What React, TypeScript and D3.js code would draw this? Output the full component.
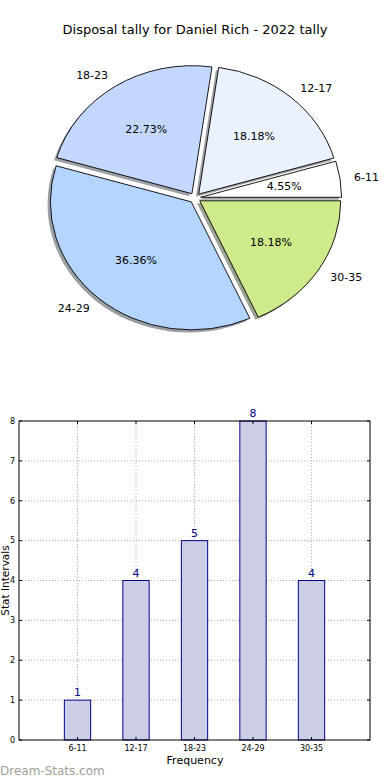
import React, { useEffect, useRef } from 'react';
import * as d3 from 'd3';

const categories = ['6-11', '12-17', '18-23', '24-29', '30-35'];
const tally = [1, 4, 5, 8, 4];
const sliceColors = ['#ffffff', '#eaf1ff', '#c4d8ff', '#b4d5ff', '#cfea8a'];
const yTicks = [0, 1, 2, 3, 4, 5, 6, 7, 8];

const FONT = 'DejaVu Sans, sans-serif';

const App: React.FC = () => {
  const svgRef = useRef<SVGSVGElement>(null);

  useEffect(() => {
    if (!svgRef.current) return;
    const svg = d3.select(svgRef.current);
    svg.selectAll('*').remove();

    // Title
    svg.append('text')
      .attr('x', 195).attr('y', 34)
      .attr('text-anchor', 'middle')
      .attr('font-family', FONT).attr('font-size', 13)
      .text('Disposal tally for Daniel Rich - 2022 tally');

    // ---- Pie (elliptical, matplotlib style, counterclockwise from 3 o'clock)
    const cx = 195, cy = 198, rx = 141, ry = 128, explode = 0.04;
    const total = d3.sum(tally);
    const pie = d3.pie<number>().sort(null)
      .startAngle(Math.PI / 2)
      .endAngle(Math.PI / 2 - 2 * Math.PI);
    const arcs = pie(tally);
    const arc = d3.arc<d3.PieArcDatum<number>>().innerRadius(0).outerRadius(1);

    const pg = svg.append('g');
    const offset = (d: d3.PieArcDatum<number>, k: number) => {
      const a = (d.startAngle + d.endAngle) / 2;
      return [cx + k * rx * Math.sin(a), cy - k * ry * Math.cos(a)];
    };

    // shadows first
    arcs.forEach((d, i) => {
      const [ox, oy] = offset(d, explode);
      const c = d3.rgb(sliceColors[i]);
      pg.append('path')
        .attr('d', arc(d) as string)
        .attr('transform', `translate(${ox - 2.8},${oy + 2.6}) scale(${rx},${ry})`)
        .attr('fill', d3.rgb(c.r * 0.3, c.g * 0.3, c.b * 0.3).toString())
        .attr('fill-opacity', 0.5);
    });
    arcs.forEach((d, i) => {
      const [ox, oy] = offset(d, explode);
      pg.append('path')
        .attr('d', arc(d) as string)
        .attr('transform', `translate(${ox},${oy}) scale(${rx},${ry})`)
        .attr('fill', sliceColors[i])
        .attr('stroke', '#000')
        .attr('stroke-width', 0.9)
        .attr('vector-effect', 'non-scaling-stroke');
    });
    arcs.forEach((d, i) => {
      const a = (d.startAngle + d.endAngle) / 2;
      const [px, py] = offset(d, explode + 0.6);
      pg.append('text')
        .attr('x', px).attr('y', py)
        .attr('dy', '0.35em')
        .attr('text-anchor', 'middle')
        .attr('font-family', FONT).attr('font-size', 11)
        .text(`${((tally[i] / total) * 100).toFixed(2)}%`);
      const [lx, ly] = offset(d, explode + 1.1);
      pg.append('text')
        .attr('x', lx).attr('y', ly)
        .attr('dy', '0.35em')
        .attr('text-anchor', Math.sin(a) > 0 ? 'start' : 'end')
        .attr('font-family', FONT).attr('font-size', 11)
        .text(categories[i]);
    });

    // ---- Bar chart
    const x = d3.scaleLinear().domain([0, 6]).range([19, 370]);
    const y = d3.scaleLinear().domain([0, 8]).range([740, 421]);
    const bg = svg.append('g');
    const barW = 0.45;

    // grid
    yTicks.slice(1, -1).forEach((t) => {
      bg.append('line')
        .attr('x1', x(0)).attr('x2', x(6))
        .attr('y1', y(t)).attr('y2', y(t))
        .attr('stroke', '#b0b0b0').attr('stroke-width', 1)
        .attr('stroke-dasharray', '1,2');
    });
    categories.forEach((_, i) => {
      bg.append('line')
        .attr('x1', x(i + 1)).attr('x2', x(i + 1))
        .attr('y1', y(0)).attr('y2', y(8))
        .attr('stroke', '#b0b0b0').attr('stroke-width', 1)
        .attr('stroke-dasharray', '1,2');
    });

    // bars
    tally.forEach((v, i) => {
      bg.append('rect')
        .attr('x', x(i + 1 - barW / 2))
        .attr('y', y(v))
        .attr('width', x(barW) - x(0))
        .attr('height', y(0) - y(v))
        .attr('fill', '#ccceE6')
        .attr('stroke', '#00008b')
        .attr('stroke-width', 1);
      bg.append('text')
        .attr('x', x(i + 1)).attr('y', y(v) - 4)
        .attr('text-anchor', 'middle')
        .attr('font-family', FONT).attr('font-size', 11)
        .attr('fill', '#00008b')
        .text(String(v));
    });

    // frame
    bg.append('rect')
      .attr('x', x(0)).attr('y', y(8))
      .attr('width', x(6) - x(0)).attr('height', y(0) - y(8))
      .attr('fill', 'none').attr('stroke', '#000').attr('stroke-width', 1);

    // ticks
    yTicks.forEach((t) => {
      bg.append('line').attr('x1', x(0)).attr('x2', x(0) + 3)
        .attr('y1', y(t)).attr('y2', y(t)).attr('stroke', '#000');
      bg.append('line').attr('x1', x(6)).attr('x2', x(6) - 3)
        .attr('y1', y(t)).attr('y2', y(t)).attr('stroke', '#000');
      bg.append('text')
        .attr('x', x(0) - 4).attr('y', y(t))
        .attr('dy', '0.35em')
        .attr('text-anchor', 'end')
        .attr('font-family', FONT).attr('font-size', 8)
        .text(String(t));
    });
    categories.forEach((c, i) => {
      bg.append('line').attr('x1', x(i + 1)).attr('x2', x(i + 1))
        .attr('y1', y(0)).attr('y2', y(0) - 3).attr('stroke', '#000');
      bg.append('line').attr('x1', x(i + 1)).attr('x2', x(i + 1))
        .attr('y1', y(8)).attr('y2', y(8) + 3).attr('stroke', '#000');
      bg.append('text')
        .attr('x', x(i + 1)).attr('y', y(0) + 11)
        .attr('text-anchor', 'middle')
        .attr('font-family', FONT).attr('font-size', 8)
        .text(c);
    });

    // axis labels
    bg.append('text')
      .attr('x', 195).attr('y', 764)
      .attr('text-anchor', 'middle')
      .attr('font-family', FONT).attr('font-size', 11)
      .text('Frequency');
    bg.append('text')
      .attr('transform', `translate(9,${(y(0) + y(8)) / 2}) rotate(-90)`)
      .attr('text-anchor', 'middle')
      .attr('font-family', FONT).attr('font-size', 10.5)
      .text('Stat Intervals');

    // watermark
    svg.append('text')
      .attr('x', 0).attr('y', 775)
      .attr('font-family', FONT).attr('font-size', 12)
      .attr('fill', '#a0a0a0')
      .text('Dream-Stats.com');
  }, []);

  return (
    <svg
      ref={svgRef}
      width={390}
      height={780}
      style={{ position: 'absolute', left: 0, top: 0, background: '#fff' }}
    />
  );
};

export default App;
